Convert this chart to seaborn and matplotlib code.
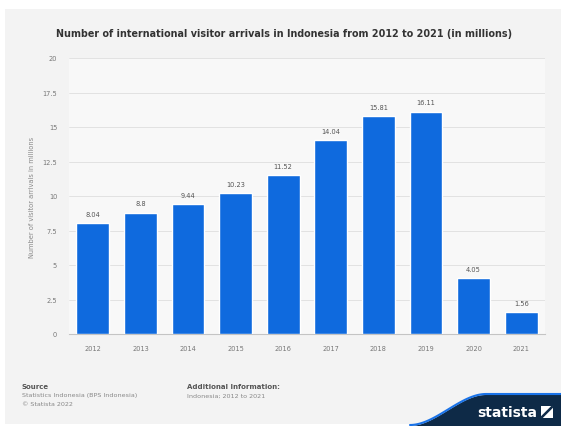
import numpy as np
import pandas as pd
import matplotlib
matplotlib.use("Agg")
import matplotlib.pyplot as plt
from matplotlib.patches import Rectangle, Polygon
import seaborn as sns

# Data
years = ["2012", "2013", "2014", "2015", "2016", "2017", "2018", "2019", "2020", "2021"]
arrivals = [8.04, 8.8, 9.44, 10.23, 11.52, 14.04, 15.81, 16.11, 4.05, 1.56]
value_labels = ["8.04", "8.8", "9.44", "10.23", "11.52", "14.04", "15.81", "16.11", "4.05", "1.56"]
y_ticks = [0, 2.5, 5, 7.5, 10, 12.5, 15, 17.5, 20]
y_tick_labels = ["0", "2.5", "5", "7.5", "10", "12.5", "15", "17.5", "20"]

title = "Number of international visitor arrivals in Indonesia from 2012 to 2021 (in millions)"
y_label = "Number of visitor arrivals in millions"

df = pd.DataFrame({"year": years, "arrivals": arrivals})

sns.set_theme(style="white")
plt.rcParams["font.family"] = ["DejaVu Sans"]

W, H = 561, 427
fig = plt.figure(figsize=(W / 100, H / 100), dpi=100)
fig.patch.set_facecolor("white")

# light gray card behind everything
fig.patches.append(Rectangle((5 / W, 2 / H), 1 - 5 / W, 1 - 12 / H, transform=fig.transFigure,
                             facecolor="#f3f3f3", edgecolor="none", zorder=-5))

ax = fig.add_axes([69 / W, 1 - 335 / H, (545 - 69) / W, (335 - 59) / H])
ax.set_zorder(2)
ax.set_facecolor("#f8f8f8")

bar_color = "#0f6ade"
sns.barplot(data=df, x="year", y="arrivals", color=bar_color, width=0.69,
            saturation=1, ax=ax, zorder=3)

for i, (v, lab) in enumerate(zip(arrivals, value_labels)):
    ax.text(i, v + 0.45, lab, ha="center", va="bottom", fontsize=4.8, color="#555555")

ax.set_ylim(0, 20)
ax.set_xlim(-0.5, len(years) - 0.5)
ax.set_yticks(y_ticks)
ax.set_yticklabels(y_tick_labels)
ax.yaxis.grid(True, color="#dedede", linewidth=0.6, zorder=0)
ax.set_axisbelow(True)
for s in ["top", "right", "left"]:
    ax.spines[s].set_visible(False)
ax.spines["bottom"].set_color("#c4c4c4")
ax.spines["bottom"].set_linewidth(0.8)
ax.tick_params(axis="both", length=0, labelsize=4.8, colors="#777777")
ax.tick_params(axis="x", pad=8)
ax.tick_params(axis="y", pad=8.5)
ax.set_xlabel("")
ax.set_ylabel(y_label, fontsize=4.8, color="#888888", labelpad=5)

fig.text(284 / W, 1 - 34 / H, title, ha="center", va="center", fontsize=6.9,
         fontweight="bold", color="#333333")

# footer
fig.text(22 / W, 1 - 387 / H, "Source", fontsize=5, fontweight="bold", color="#555555", va="center")
fig.text(22 / W, 1 - 396 / H, "Statistics Indonesia (BPS Indonesia)", fontsize=4.6, color="#888888", va="center")
fig.text(22 / W, 1 - 405 / H, "\u00a9 Statista 2022", fontsize=4.6, color="#888888", va="center")
fig.text(187 / W, 1 - 387 / H, "Additional Information:", fontsize=5, fontweight="bold", color="#555555", va="center")
fig.text(187 / W, 1 - 396 / H, "Indonesia; 2012 to 2021", fontsize=4.6, color="#888888", va="center")

# brand wave in the lower right corner
x0, x1, ytop = 410, 486, 396
xs = np.linspace(x0, x1, 60)
t = (xs - x0) / (x1 - x0)
ys = 427 - (427 - ytop) * (3 * t ** 2 - 2 * t ** 3)
pts = [(x / W, 1 - y / H) for x, y in zip(xs, ys)] + [(1, 1 - ytop / H), (1, 0), (x0 / W, 0)]
fig.patches.append(Polygon(pts, closed=True, transform=fig.transFigure,
                           facecolor="#0e2a47", edgecolor="none", zorder=1))
edge = [(x / W, 1 - (y - 1.0) / H) for x, y in zip(xs, ys)]
fig.lines.append(plt.Line2D([p[0] for p in edge] + [1], [p[1] for p in edge] + [1 - (ytop - 1) / H],
                            transform=fig.transFigure, color="#1a73e8", linewidth=1.5, zorder=2))
fig.text(537 / W, 1 - 413 / H, "statista", ha="right", va="center", fontsize=10,
         fontweight="bold", color="white", zorder=3)
fig.patches.append(Rectangle((541 / W, 1 - 419 / H), 12 / W, 12 / H, transform=fig.transFigure,
                             facecolor="white", edgecolor="none", zorder=3))
fig.lines.append(plt.Line2D([542 / W, 552 / W], [1 - 418 / H, 1 - 408 / H], transform=fig.transFigure,
                            color="#0e2a47", linewidth=1.8, zorder=4))

fig.savefig("out.png", dpi=100, facecolor=fig.get_facecolor())
